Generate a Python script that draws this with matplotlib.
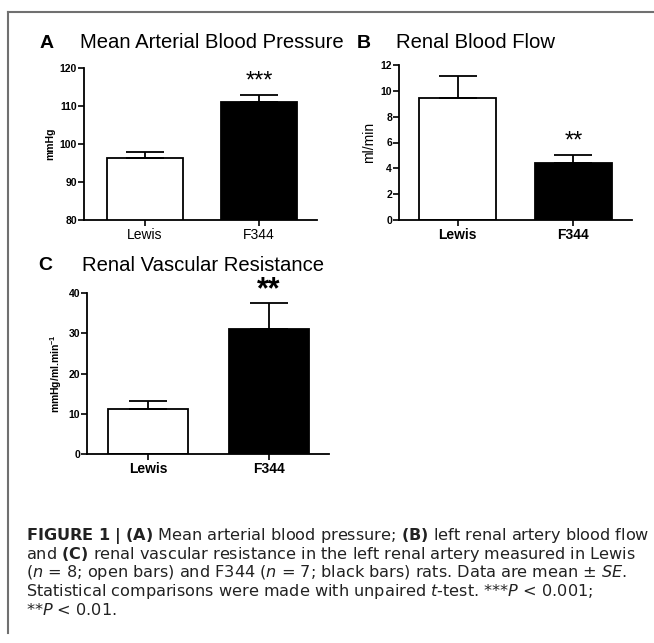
import matplotlib
matplotlib.use("Agg")
import matplotlib.pyplot as plt
from matplotlib.lines import Line2D

plt.rcParams['font.family'] = ['Liberation Sans', 'DejaVu Sans']
plt.rcParams['mathtext.fontset'] = 'custom'
plt.rcParams['mathtext.rm'] = 'Liberation Sans'
plt.rcParams['mathtext.bf'] = 'Liberation Sans:bold'
plt.rcParams['mathtext.it'] = 'Liberation Sans:italic'

# data
groups = ['Lewis', 'F344']
map_mean = [96.2, 111.0]
map_se = [1.7, 2.0]
rbf_mean = [9.47, 4.42]
rbf_se = [1.7, 0.63]
rvr_mean = [11.2, 31.1]
rvr_se = [2.0, 6.4]
bar_colors = ['white', 'black']

W, H = 654, 643


def px_axes(fig, left, right, top, bottom):
	# axes box from pixel edges (origin top-left)
	return fig.add_axes([left / W, 1 - bottom / H, (right - left) / W, (bottom - top) / H])


def bar_panel(ax, means, ses, ylim, yticks, ylabel, star, xlim,
			  tick_bold, xlab_bold, ylab_bold, ylab_size, star_size, star_bold):
	x = [0, 1]
	ax.bar(x, means, width=0.665, color=bar_colors, edgecolor='black', linewidth=1.3, zorder=2)
	ax.errorbar(x, means, yerr=[[0, 0], ses], fmt='none', ecolor='black',
				elinewidth=1.3, capsize=14, capthick=1.3, zorder=3)
	ax.set_ylim(*ylim)
	ax.set_xlim(*xlim)
	ax.set_yticks(yticks)
	ax.set_xticks(x)
	ax.set_xticklabels(groups, fontsize=10, fontweight='bold' if xlab_bold else 'normal')
	for t in ax.get_yticklabels():
		t.set_fontsize(7.5)
		t.set_fontweight('bold' if tick_bold else 'normal')
	ax.tick_params(axis='y', length=4, width=1.2, pad=1)
	ax.tick_params(axis='x', length=4, width=1.2, pad=2)
	for s in ['top', 'right']:
		ax.spines[s].set_visible(False)
	for s in ['left', 'bottom']:
		ax.spines[s].set_linewidth(1.3)
	ax.set_ylabel(ylabel, fontsize=ylab_size, fontweight='bold' if ylab_bold else 'normal', labelpad=3)
	ax.patch.set_alpha(0)
	top = means[1] + ses[1]
	ax.annotate(star, (1, top), xytext=(0, 9.5), textcoords='offset points',
				ha='center', va='center', fontsize=star_size,
				fontweight='bold' if star_bold else 'normal')


def main():
	fig = plt.figure(figsize=(W / 100, H / 100), dpi=100)
	fig.patch.set_facecolor('white')

	# frame lines round the figure
	fig.add_artist(Line2D([8 / W, 8 / W], [1 - 12 / H, 1 - 633 / H], color='#707070', lw=1.5))
	fig.add_artist(Line2D([8 / W, 1.0], [1 - 12 / H, 1 - 12 / H], color='#707070', lw=1.5))

	axA = px_axes(fig, 84, 317, 68, 220)
	bar_panel(axA, map_mean, map_se, (80, 120), [80, 90, 100, 110, 120], 'mmHg', '***',
			  (-0.535, 1.51), True, False, True, 7.5, 17, False)
	axB = px_axes(fig, 399, 632, 65, 220)
	bar_panel(axB, rbf_mean, rbf_se, (0, 12), [0, 2, 4, 6, 8, 10, 12], 'ml/min', '**',
			  (-0.505, 1.505), True, True, False, 10, 17, False)
	axC = px_axes(fig, 87, 329, 293, 454)
	bar_panel(axC, rvr_mean, rvr_se, (0, 40), [0, 10, 20, 30, 40], r'mmHg/ml.min$^{\mathbf{-1}}$', '**',
			  (-0.505, 1.5), True, True, True, 7.5, 22, True)

	# panel titles
	fig.text(40 / W, 1 - 43 / H, 'A', fontsize=14, fontweight='bold', va='center')
	fig.text(80 / W, 1 - 43 / H, 'Mean Arterial Blood Pressure', fontsize=14.6, va='center')
	fig.text(357 / W, 1 - 43 / H, 'B', fontsize=14, fontweight='bold', va='center')
	fig.text(396 / W, 1 - 43 / H, 'Renal Blood Flow', fontsize=14.6, va='center')
	fig.text(38 / W, 1 - 265 / H, 'C', fontsize=14, fontweight='bold', va='center')
	fig.text(82 / W, 1 - 265 / H, 'Renal Vascular Resistance', fontsize=14.6, va='center')

	# caption
	lines = [
		r'$\mathbf{FIGURE\ 1\ |\ (A)}$ Mean arterial blood pressure; $\mathbf{(B)}$ left renal artery blood flow',
		r'and $\mathbf{(C)}$ renal vascular resistance in the left renal artery measured in Lewis',
		r'($n$ = 8; open bars) and F344 ($n$ = 7; black bars) rats. Data are mean $\pm$ $SE$.',
		r'Statistical comparisons were made with unpaired $t$-test. ***$P$ < 0.001;',
		r'**$P$ < 0.01.',
	]
	for i, ln in enumerate(lines):
		fig.text(26 / W, 1 - (536 + 18.5 * i) / H, ln, fontsize=11.6, va='center', color='#222222',
				 family='DejaVu Sans', math_fontfamily='dejavusans')

	fig.savefig('out.png', dpi=100, facecolor='white')


if __name__ == '__main__':
	main()
